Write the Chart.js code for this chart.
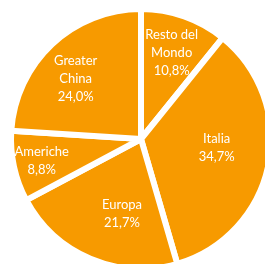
<!DOCTYPE html>
<html>
<head>
<meta charset="utf-8">
<script src="https://cdn.jsdelivr.net/npm/chart.js@4/dist/chart.umd.min.js"></script>
<style>
  html, body { margin: 0; padding: 0; background: #ffffff; overflow: hidden; }
  #c { display: block; }
</style>
</head>
<body>
<canvas id="c" width="265" height="264"></canvas>
<script>
// Data
const categories = [["Resto del", "Mondo"], ["Italia"], ["Europa"], ["Americhe"], ["Greater", "China"]];
const shares = [10.8, 34.7, 21.7, 8.8, 24.0];
const shareLabels = ["10,8%", "34,7%", "21,7%", "8,8%", "24,0%"];

// Label placement (style only): radius fraction and angle (degrees, clockwise from top)
const labelPlacement = [
  { rf: 0.72, deg: 19.6 },
  { rf: 0.60, deg: 97 },
  { rf: 0.61, deg: 194.2 },
  { rf: 0.80, deg: 257.7 },
  { rf: 0.70, deg: 312.7 }
];

const sliceLabels = {
  id: 'sliceLabels',
  afterDatasetsDraw(chart) {
    const ctx = chart.ctx;
    const meta = chart.getDatasetMeta(0);
    ctx.save();
    ctx.fillStyle = '#ffffff';
    ctx.font = '13px Lato, "DejaVu Sans", sans-serif';
    ctx.textAlign = 'center';
    ctx.textBaseline = 'middle';
    const lineH = 18;
    meta.data.forEach((arc, i) => {
      const p = arc.getProps(['x', 'y', 'outerRadius'], true);
      const place = labelPlacement[i];
      const a = place.deg * Math.PI / 180;
      const r = place.rf * (p.outerRadius - 3);
      const cx = p.x + Math.sin(a) * r;
      const cy = p.y - Math.cos(a) * r;
      const lines = categories[i].concat([shareLabels[i]]);
      const top = cy - (lines.length - 1) * lineH / 2;
      lines.forEach((t, k) => ctx.fillText(t, cx, top + k * lineH));
    });
    ctx.restore();
  }
};

new Chart(document.getElementById('c'), {
  type: 'pie',
  data: {
    labels: categories.map(c => c.join(' ')),
    datasets: [{
      data: shares,
      backgroundColor: '#F79A00',
      borderColor: '#ffffff',
      borderWidth: 6,
      clip: false
    }]
  },
  options: {
    responsive: false,
    animation: false,
    radius: 130,
    rotation: 0,
    layout: { padding: { left: 17, top: 14, right: 0, bottom: 0 } },
    plugins: { legend: { display: false }, tooltip: { enabled: false } }
  },
  plugins: [sliceLabels]
});
</script>
</body>
</html>
